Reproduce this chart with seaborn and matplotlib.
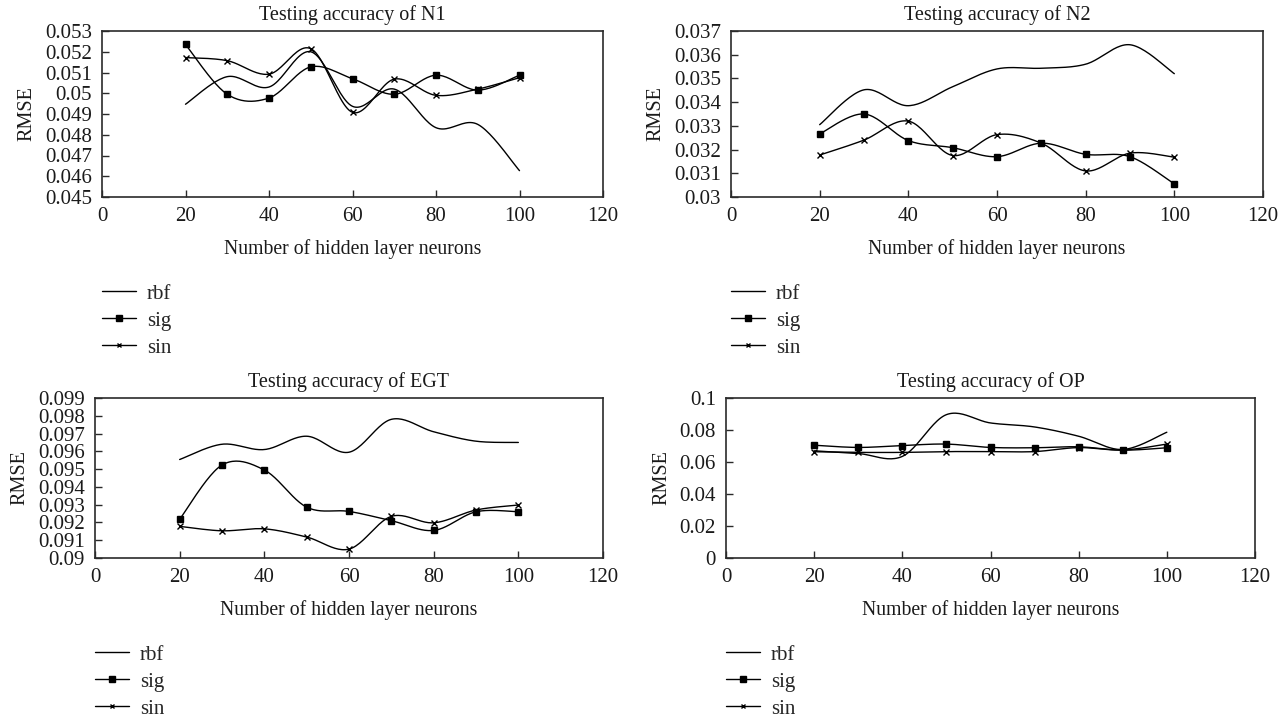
import numpy as np
import matplotlib
matplotlib.use("Agg")
import matplotlib.pyplot as plt
from matplotlib.lines import Line2D
from matplotlib.ticker import FuncFormatter
import seaborn as sns

# Hidden-layer sizes tested
neurons = [20, 30, 40, 50, 60, 70, 80, 90, 100]

# Testing RMSE for each activation function
n1_rbf = [0.04947, 0.0508, 0.0503, 0.0520, 0.04937, 0.0502, 0.04834, 0.0485, 0.04627]
n1_sig = [0.05235, 0.04995, 0.04977, 0.05127, 0.0507, 0.04995, 0.05087, 0.05015, 0.05087]
n1_sin = [0.05172, 0.05157, 0.05092, 0.05215, 0.04908, 0.05068, 0.04990, 0.05020, 0.05075]

n2_rbf = [0.03305, 0.03452, 0.03385, 0.03465, 0.03540, 0.03543, 0.03560, 0.03642, 0.03520]
n2_sig = [0.03266, 0.03350, 0.03238, 0.03208, 0.03170, 0.03227, 0.03180, 0.03170, 0.03055]
n2_sin = [0.03177, 0.03240, 0.03320, 0.03175, 0.03263, 0.03227, 0.03110, 0.03185, 0.03168]

egt_rbf = [0.09554, 0.0964, 0.0961, 0.09685, 0.09595, 0.0978, 0.0971, 0.09657, 0.0965]
egt_sig = [0.09218, 0.09523, 0.09495, 0.09286, 0.09262, 0.0921, 0.09155, 0.0926, 0.0926]
egt_sin = [0.09178, 0.09153, 0.09164, 0.09118, 0.0905, 0.09234, 0.09198, 0.0927, 0.09298]

op_rbf = [0.0670, 0.0653, 0.0635, 0.0896, 0.0844, 0.0819, 0.0761, 0.0678, 0.0786]
op_sig = [0.0705, 0.0691, 0.0703, 0.0712, 0.0691, 0.0689, 0.0695, 0.0674, 0.0689]
op_sin = [0.0664, 0.0660, 0.0660, 0.0665, 0.0665, 0.0665, 0.0690, 0.0675, 0.0712]

titles = ["Testing accuracy of N1", "Testing accuracy of N2",
          "Testing accuracy of EGT", "Testing accuracy of OP"]
series = [(n1_rbf, n1_sig, n1_sin), (n2_rbf, n2_sig, n2_sin),
          (egt_rbf, egt_sig, egt_sin), (op_rbf, op_sig, op_sin)]
y_ticks = [
    [0.045, 0.046, 0.047, 0.048, 0.049, 0.050, 0.051, 0.052, 0.053],
    [0.030, 0.031, 0.032, 0.033, 0.034, 0.035, 0.036, 0.037],
    [0.090, 0.091, 0.092, 0.093, 0.094, 0.095, 0.096, 0.097, 0.098, 0.099],
    [0.0, 0.02, 0.04, 0.06, 0.08, 0.1],
]
x_ticks = [0, 20, 40, 60, 80, 100, 120]
legend_labels = ["rbf", "sig", "sin"]


def smooth_curve(x, y, steps=24):
    """Bezier smoothing through every point (Catmull-Rom style tangents)."""
    P = np.column_stack([np.asarray(x, float), np.asarray(y, float)])
    n = len(P)
    out = []
    for i in range(n - 1):
        p0 = P[i - 1] if i > 0 else P[i]
        p1, p2 = P[i], P[i + 1]
        p3 = P[i + 2] if i + 2 < n else P[i + 1]
        c1 = p1 + (p2 - p0) / 6.0
        c2 = p2 - (p3 - p1) / 6.0
        t = np.linspace(0, 1, steps, endpoint=(i == n - 2))[:, None]
        b = ((1 - t) ** 3) * p1 + 3 * (1 - t) ** 2 * t * c1 + 3 * (1 - t) * t ** 2 * c2 + t ** 3 * p2
        out.append(b)
    out = np.vstack(out)
    return out[:, 0], out[:, 1]


sns.set_theme(style="white")
plt.rcParams["font.family"] = ["Liberation Serif", "DejaVu Serif"]
plt.rcParams["axes.edgecolor"] = "#2a2a2a"
plt.rcParams["axes.linewidth"] = 1.2

W, H = 1286, 718
fig = plt.figure(figsize=(W / 100, H / 100), dpi=100)

# axes boxes in pixels: left, right, top, bottom
boxes = [(102, 603, 31, 197), (731, 1263, 31, 197),
         (95, 603, 398, 558), (726, 1255, 398, 558)]
legend_tops = [284, 284, 645, 645]

fs_tick = 15
fs_title = 14.5
fs_xlabel = 14.2
fs_ylabel = 14.5
fs_leg = 15
ink = "#1a1a1a"

for k, (l, r, t, b) in enumerate(boxes):
    ax = fig.add_axes([l / W, 1 - b / H, (r - l) / W, (b - t) / H])
    rbf, sig, sin = series[k]

    xs, ys = smooth_curve(neurons, rbf)
    sns.lineplot(x=xs, y=ys, ax=ax, color="black", lw=1.0, sort=False, estimator=None)
    xs, ys = smooth_curve(neurons, sig)
    sns.lineplot(x=xs, y=ys, ax=ax, color="black", lw=1.0, sort=False, estimator=None)
    xs, ys = smooth_curve(neurons, sin)
    sns.lineplot(x=xs, y=ys, ax=ax, color="black", lw=1.0, sort=False, estimator=None)

    ax.plot(neurons, sig, ls="none", marker="s", ms=4.6, mew=1.0, color="black")
    ax.plot(neurons, sin, ls="none", marker="x", ms=4.2, mew=1.0, color="black")

    ax.set_xlim(0, 120)
    ax.set_ylim(y_ticks[k][0], y_ticks[k][-1])
    ax.set_xticks(x_ticks)
    ax.set_yticks(y_ticks[k])
    ax.yaxis.set_major_formatter(FuncFormatter(lambda v, p: "%g" % round(v, 6)))
    ax.tick_params(axis="both", direction="in", length=5, width=1.0, color="#2a2a2a",
                   labelsize=fs_tick, pad=7.2, labelcolor=ink,
                   bottom=True, left=True, top=False, right=False)
    for s in ax.spines.values():
        s.set_visible(True)
        s.set_color("#2a2a2a")
    ax.set_title(titles[k], fontsize=fs_title, color=ink, pad=8)
    ax.set_xlabel("Number of hidden layer neurons", fontsize=fs_xlabel, color=ink, labelpad=9.5)
    ax.set_ylabel("RMSE", fontsize=fs_ylabel, color=ink, labelpad=6)
    ax.grid(False)

    handles = [
        Line2D([], [], color="black", lw=1.0),
        Line2D([], [], color="black", lw=1.0, marker="s", ms=4.3),
        Line2D([], [], color="black", lw=1.0, marker="x", ms=3.5, mew=1.0),
    ]
    ax.legend(handles, legend_labels, loc="upper left",
              bbox_to_anchor=(l / W, 1 - legend_tops[k] / H), bbox_transform=fig.transFigure,
              frameon=False, fontsize=fs_leg, handlelength=1.63, handletextpad=0.53,
              labelspacing=0.36, borderpad=0, borderaxespad=0)

fig.savefig("out.png", dpi=100, facecolor="white")
